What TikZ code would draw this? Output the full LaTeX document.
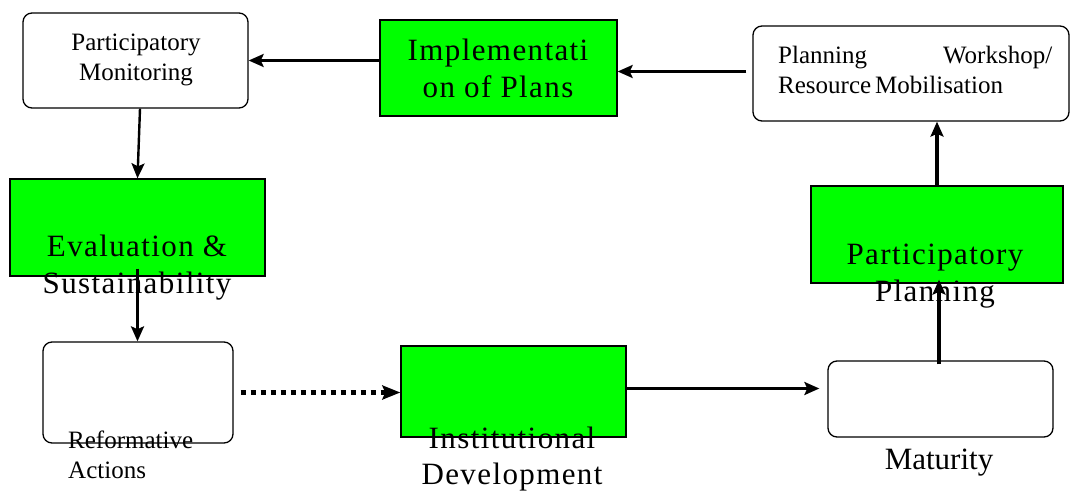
\documentclass[tikz,border=0pt]{standalone}
\usepackage{fontspec}
\setmainfont{Liberation Serif}
\newfontfamily\greenfont[LetterSpace=4.5]{Liberation Serif}
\usetikzlibrary{arrows.meta}
\definecolor{boxgreen}{RGB}{0,255,0}
\newcommand{\twolines}[2]{\begin{tabular}[t]{@{}c@{}}#1\\#2\end{tabular}}
\newcommand{\twolinesl}[2]{\begin{tabular}[t]{@{}l@{}}#1\\#2\end{tabular}}
\tikzset{
  whitebox/.style={draw=black, line width=1.3pt, fill=white, rounded corners=9pt, inner sep=0pt},
  greenbox/.style={draw=black, line width=1.3pt, fill=boxgreen, inner sep=0pt},
  smalltext/.style={inner sep=0pt, anchor=base, font=\fontsize{25}{30}\selectfont},
  bigtext/.style={inner sep=0pt, anchor=base, font=\greenfont\fontsize{31}{37}\selectfont},
  arr/.style={line width=3.6pt, -{Stealth[length=15pt,width=13pt,inset=3pt]}},
  thinarr/.style={line width=2.4pt, -{Stealth[length=15pt,width=13pt,inset=3pt]}},
  dotarr/.style={line width=5pt, dash pattern=on 5pt off 5pt, -{Stealth[length=18pt,width=14pt,inset=3pt]}}
}
\begin{document}
\begin{tikzpicture}[x=1pt,y=-1pt]
\useasboundingbox (0,0) rectangle (1071,492);
% boxes
\node[whitebox, minimum width=225pt, minimum height=95pt] (pm) at (135.5,60.5) {};
\node[greenbox, minimum width=237pt, minimum height=96pt] (impl) at (498.5,68) {};
\node[whitebox, minimum width=316pt, minimum height=95pt] (pw) at (911,73.5) {};
\node[greenbox, minimum width=255pt, minimum height=97pt] (eval) at (137.5,227.5) {};
\node[whitebox, minimum width=190pt, minimum height=101pt] (ref) at (138,392.5) {};
\node[greenbox, minimum width=225pt, minimum height=91pt] (inst) at (513.5,391.5) {};
\node[whitebox, minimum width=225pt, minimum height=76pt] (mat) at (940.5,399) {};
\node[greenbox, minimum width=252pt, minimum height=97pt] (pp) at (937,234.5) {};
% texts
\node[smalltext] (pmtext) at (136,51) {\twolines{Participatory}{Monitoring}};
\node[bigtext] (impltext) at (498,61) {\twolines{Implementati}{on of Plans}};
\node[smalltext, anchor=base west] (pwtext) at (778,64) {\twolinesl{\makebox[274pt][s]{Planning Workshop/}}{Resource\hspace{4pt}Mobilisation}};
\node[bigtext] (evaltext) at (137,256) {\twolines{Evaluation \&}{Sustainability}};
\node[smalltext, anchor=base west] (reftext) at (68,448) {\twolinesl{Reformative}{Actions}};
\node[bigtext, font=\greenfont\fontsize{31}{36}\selectfont] (insttext) at (512,448) {\twolines{Institutional}{Development}};
\node[bigtext, font=\fontsize{31}{37}\selectfont] (mattext) at (939,469) {Maturity};
\node[bigtext] (pptext) at (935,264) {\twolines{Participatory}{Planning}};
% connectors
\draw[arr] (impl.west |- pm.east) -- (pm.east);
\draw[arr, shorten <=6pt] ([yshift=2pt]pw.west) -- ([yshift=2pt]pw.west -| impl.east);
\draw[thinarr] ([xshift=4.5pt]pm.south) -- (eval.north);
\draw[arr] ([yshift=8pt]eval.south) -- (eval.south |- ref.north);
\draw[dotarr, shorten <=7pt] (ref.east) -- (ref.east -| inst.west);
\draw[arr, shorten >=8pt] ([yshift=3pt]inst.east) -- ([yshift=3pt]inst.east -| mat.west);
\draw[arr, shorten <=-4pt, shorten >=-4pt] ([xshift=-1.5pt]mat.north) -- ([xshift=-1.5pt]mat.north |- pp.south);
\draw[arr] (pp.north) -- (pp.north |- pw.south);
\end{tikzpicture}
\end{document}
